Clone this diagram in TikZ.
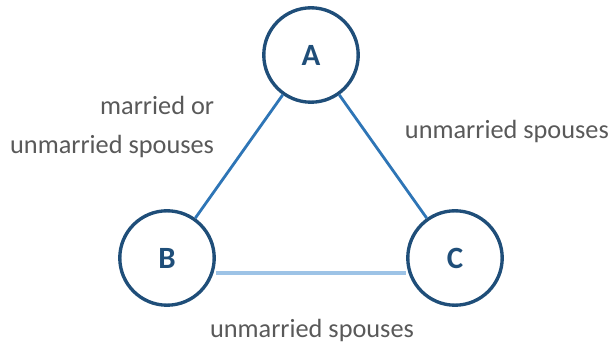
\documentclass[tikz,border=0pt]{standalone}
\usepackage{fontspec}
\setmainfont{Carlito}
\usepackage{tikz}
\usetikzlibrary{positioning}

\definecolor{navy}{HTML}{1F4E79}
\definecolor{midblue}{HTML}{2E75B6}
\definecolor{paleblue}{HTML}{9DC3E6}
\definecolor{labelgray}{HTML}{595959}

\begin{document}
\begin{tikzpicture}[x=.025cm,y=-.025cm,
    person/.style={circle,draw=navy,line width=2.4pt,minimum size=2.36cm,inner sep=0pt,
      text=navy,font=\fontsize{22}{26}\selectfont\bfseries},
    rel/.style={font=\fontsize{18.7}{28}\selectfont,text=labelgray}]
  \useasboundingbox (0,0) rectangle (608,347);
  \node[person] (A) at (311,55) {A};
  \node[person] (B) at (167,258) {B};
  \node[person] (C) at (455,258) {C};
  \draw[midblue,line width=2pt] (A)--(B);
  \draw[midblue,line width=2pt] (A)--(C);
  \draw[paleblue,line width=2.2pt] (B.east|-0,273)--(C.west|-0,273);
  \node[rel,align=right,anchor=east] (lab) at (219,127) {married or\\unmarried spouses};
  \node[rel,anchor=west] (lac) at (400,131) {unmarried spouses};
  \node[rel] (lbc) at (312,330) {unmarried spouses};
\end{tikzpicture}
\end{document}
